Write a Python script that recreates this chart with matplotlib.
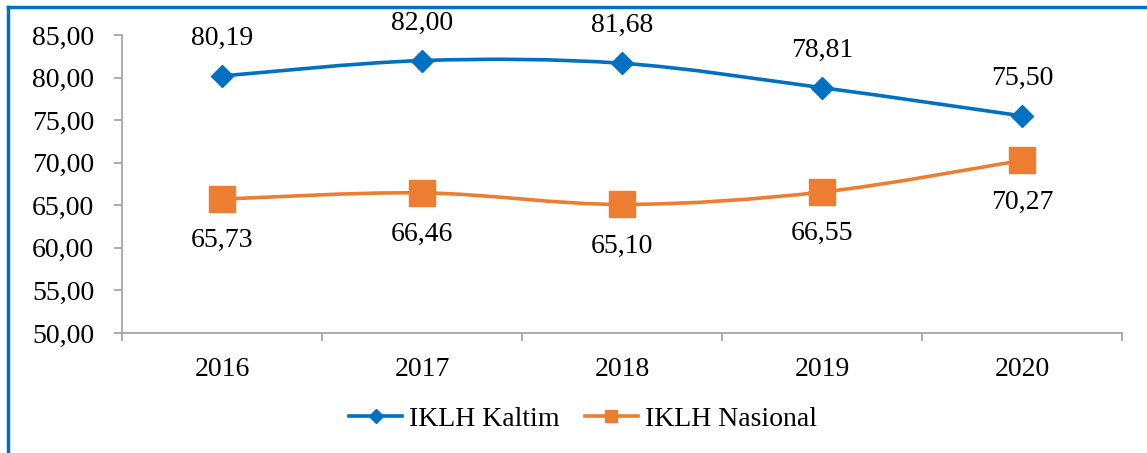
import numpy as np
import matplotlib.pyplot as plt
from matplotlib.path import Path
from matplotlib.patches import PathPatch
from matplotlib.lines import Line2D

plt.rcParams['font.family'] = ['Liberation Serif', 'DejaVu Serif']

# Data IKLH
years = ['2016', '2017', '2018', '2019', '2020']
iklh_kaltim = [80.19, 82.00, 81.68, 78.81, 75.50]
iklh_nasional = [65.73, 66.46, 65.10, 66.55, 70.27]

BLUE = '#0070C0'
ORANGE = '#ED7D31'
AXIS_GRAY = '#A6A6A6'
FS = 20


def fmt(v):
    return f'{v:.2f}'.replace('.', ',')


def smooth_path(xs, ys):
    """Kurva halus (Catmull-Rom -> Bezier) melalui titik data."""
    pts = np.column_stack([xs, ys]).astype(float)
    ext = np.vstack([pts[0], pts, pts[-1]])
    verts = [tuple(pts[0])]
    codes = [Path.MOVETO]
    for i in range(1, len(ext) - 2):
        p0, p1, p2, p3 = ext[i - 1], ext[i], ext[i + 1], ext[i + 2]
        c1 = p1 + (p2 - p0) / 6.0
        c2 = p2 - (p3 - p1) / 6.0
        verts += [tuple(c1), tuple(c2), tuple(p2)]
        codes += [Path.CURVE4] * 3
    return Path(verts, codes)


fig = plt.figure(figsize=(11.47, 4.53), dpi=100)
ax = fig.add_axes([122 / 1147, 1 - 333 / 453, 1000 / 1147, 298 / 453])

x = np.arange(len(years))

for vals, color, marker, ms, label, dy in [
    (iklh_kaltim, BLUE, 'D', 11, 'IKLH Kaltim', 27),
    (iklh_nasional, ORANGE, 's', 19, 'IKLH Nasional', -30),
]:
    ax.add_patch(PathPatch(smooth_path(x, vals), facecolor='none',
                           edgecolor=color, lw=2.6, zorder=2))
    ax.plot(x, vals, linestyle='none', marker=marker, markersize=ms,
            color=color, zorder=3)
    for xi, v in zip(x, vals):
        ax.annotate(fmt(v), (xi, v), xytext=(0, dy), textcoords='offset points',
                    ha='center', va='center', fontsize=FS)

ax.set_xlim(-0.5, len(years) - 0.5)
ax.set_ylim(50, 85)
ax.set_yticks(np.arange(50, 86, 5))
ax.set_yticklabels([fmt(v) for v in np.arange(50, 86, 5)])
ax.set_xticks(x)
ax.set_xticklabels(years)
ax.set_xticks(np.arange(-0.5, len(years)), minor=True)

for s in ['top', 'right']:
    ax.spines[s].set_visible(False)
for s in ['left', 'bottom']:
    ax.spines[s].set_color(AXIS_GRAY)
    ax.spines[s].set_linewidth(1.3)

ax.tick_params(axis='y', length=6, width=1.3, color=AXIS_GRAY, pad=14,
               labelsize=FS)
ax.tick_params(axis='x', which='major', length=0, pad=17, labelsize=FS)
ax.tick_params(axis='x', which='minor', length=6, width=1.3, color=AXIS_GRAY)

handles = [
    Line2D([], [], color=BLUE, lw=2.6, marker='D', markersize=7),
    Line2D([], [], color=ORANGE, lw=2.6, marker='s', markersize=9),
]
fig.legend(handles, ['IKLH Kaltim', 'IKLH Nasional'], loc='center',
           bbox_to_anchor=(583 / 1147, 1 - 419 / 453), ncol=2, frameon=False,
           fontsize=FS, handlelength=1.9, handletextpad=0.25, columnspacing=0.9)

# Garis bingkai biru di atas dan kiri
fig.add_artist(Line2D([8 / 1147, 1], [1 - 7 / 453, 1 - 7 / 453],
                      color=BLUE, lw=2.5, transform=fig.transFigure))
fig.add_artist(Line2D([8 / 1147, 8 / 1147], [0, 1 - 7 / 453],
                      color=BLUE, lw=2.5, transform=fig.transFigure))

fig.savefig('out.png', dpi=100)
